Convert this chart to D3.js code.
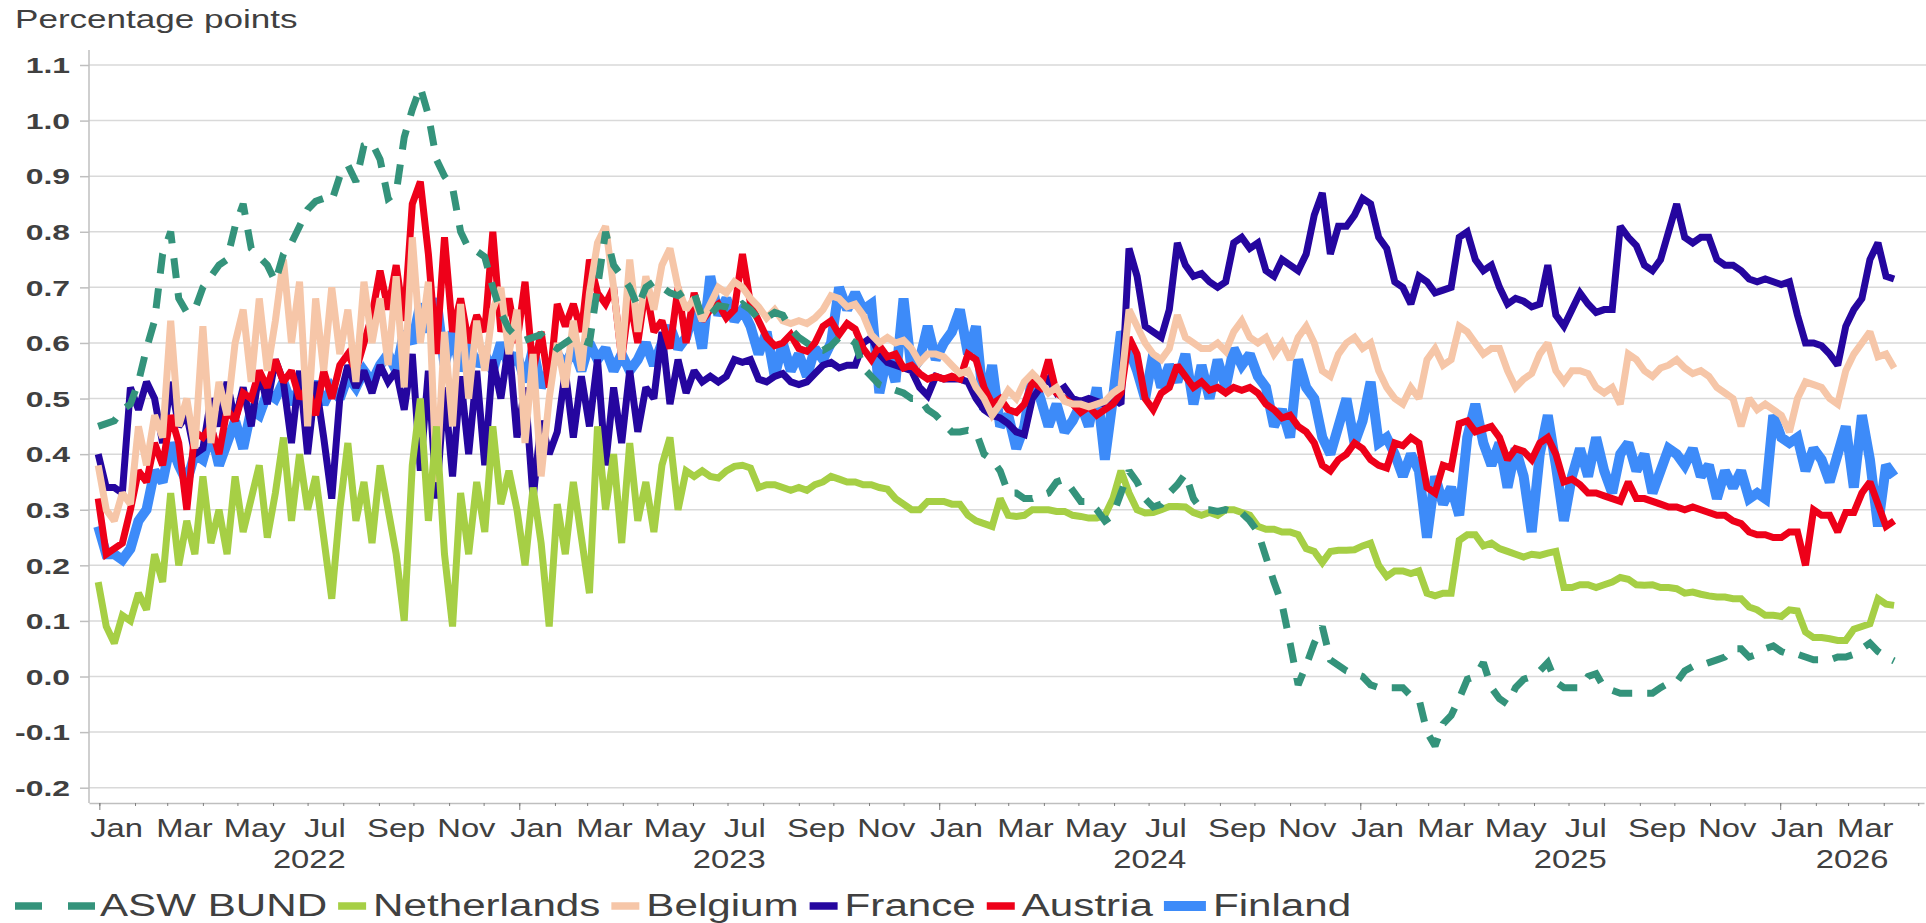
<!DOCTYPE html>
<html>
<head>
  <meta charset="utf-8">
  <title>ASW spreads</title>
  <script src="https://cdnjs.cloudflare.com/ajax/libs/d3/7.8.5/d3.min.js"></script>
  <style>
    body { margin: 0; background: #fff; }
    text { font-family: 'Liberation Sans', Arial, sans-serif; fill: #404040; }
  </style>
</head>
<body>
  <svg id="chart" width="1926" height="923"></svg>
  <script>
    // weekly observations, first one on 31 Dec 2021
    const firstDate = new Date(2021, 11, 31);

    const aswBund = [
      0.45,0.455,0.46,0.48,0.49,0.53,0.59,0.64,0.76,0.80,0.68,0.655,0.66,
      0.70,0.72,0.74,0.75,0.81,0.85,0.77,0.755,0.74,0.71,0.76,0.78,0.81,
      0.84,0.855,0.86,0.855,0.90,0.92,0.89,0.955,0.96,0.93,0.86,0.87,0.97,
      1.02,1.06,1.01,0.93,0.90,0.88,0.80,0.77,0.765,0.755,0.70,0.655,0.625,
      0.61,0.605,0.61,0.615,0.60,0.59,0.60,0.61,0.605,0.60,0.70,0.80,0.74,
      0.72,0.70,0.665,0.70,0.71,0.70,0.69,0.685,0.695,0.69,0.645,0.65,0.667,
      0.665,0.66,0.67,0.66,0.643,0.645,0.655,0.65,0.625,0.61,0.60,0.59,0.587,
      0.595,0.61,0.61,0.60,0.555,0.54,0.525,0.52,0.515,0.51,0.50,0.50,0.48,
      0.47,0.455,0.44,0.44,0.443,0.44,0.40,0.39,0.37,0.33,0.33,0.32,0.32,
      0.325,0.33,0.35,0.355,0.335,0.315,0.315,0.30,0.28,0.29,0.33,0.37,0.35,
      0.32,0.305,0.31,0.33,0.345,0.365,0.32,0.30,0.30,0.297,0.30,0.295,0.294,
      0.28,0.26,0.215,0.17,0.13,0.06,-0.015,0.02,0.06,0.09,0.03,0.02,0.01,
      0.005,0.0,-0.015,-0.02,-0.02,-0.02,-0.02,-0.035,-0.04,-0.10,-0.125,-0.085,-0.07,
      -0.04,-0.005,0.0,0.025,-0.02,-0.04,-0.05,-0.02,-0.005,0.0,0.01,0.025,-0.01,
      -0.02,-0.02,-0.02,0.0,0.005,-0.02,-0.025,-0.03,-0.03,-0.03,-0.03,-0.03,-0.02,
      -0.012,-0.01,0.01,0.018,0.02,0.025,0.03,0.035,0.05,0.05,0.035,0.04,0.05,
      0.055,0.045,0.04,0.04,0.035,0.03,0.03,0.03,0.035,0.035,0.04,0.05,0.06,
      0.045,0.035,0.028
    ];

    const netherlands = [
      0.17,0.09,0.06,0.11,0.10,0.15,0.12,0.22,0.17,0.33,0.20,0.28,0.22,
      0.36,0.24,0.30,0.22,0.36,0.26,0.32,0.38,0.25,0.33,0.43,0.28,0.40,
      0.30,0.36,0.25,0.14,0.30,0.42,0.28,0.35,0.24,0.38,0.30,0.22,0.10,
      0.38,0.50,0.28,0.45,0.22,0.09,0.33,0.22,0.35,0.26,0.45,0.31,0.37,
      0.30,0.20,0.34,0.24,0.09,0.31,0.22,0.35,0.25,0.15,0.45,0.30,0.40,
      0.24,0.42,0.28,0.35,0.26,0.38,0.43,0.30,0.37,0.36,0.37,0.36,0.357,
      0.37,0.378,0.38,0.375,0.34,0.345,0.345,0.34,0.335,0.34,0.335,0.345,0.35,
      0.36,0.355,0.35,0.35,0.345,0.345,0.34,0.337,0.32,0.31,0.30,0.30,0.315,
      0.315,0.315,0.31,0.31,0.29,0.28,0.275,0.27,0.32,0.29,0.288,0.29,0.30,
      0.30,0.30,0.297,0.297,0.29,0.288,0.285,0.285,0.29,0.32,0.37,0.33,0.30,
      0.294,0.295,0.30,0.306,0.306,0.305,0.295,0.29,0.295,0.29,0.30,0.30,0.295,
      0.29,0.27,0.265,0.265,0.26,0.26,0.255,0.23,0.225,0.205,0.225,0.227,0.227,
      0.228,0.235,0.24,0.20,0.18,0.19,0.19,0.185,0.19,0.15,0.145,0.15,0.15,
      0.245,0.255,0.255,0.235,0.24,0.23,0.225,0.22,0.215,0.22,0.218,0.222,0.225,
      0.16,0.16,0.165,0.165,0.16,0.165,0.17,0.178,0.175,0.165,0.164,0.165,0.16,
      0.16,0.158,0.15,0.152,0.148,0.145,0.143,0.143,0.14,0.14,0.125,0.12,0.11,
      0.11,0.108,0.12,0.118,0.08,0.07,0.07,0.068,0.065,0.065,0.085,0.09,0.095,
      0.14,0.13,0.128
    ];

    const belgium = [
      0.38,0.30,0.28,0.33,0.31,0.45,0.38,0.47,0.43,0.64,0.45,0.50,0.41,
      0.63,0.42,0.53,0.47,0.60,0.66,0.53,0.68,0.55,0.64,0.75,0.60,0.71,
      0.45,0.68,0.55,0.70,0.58,0.66,0.53,0.71,0.60,0.68,0.56,0.72,0.52,
      0.79,0.60,0.71,0.35,0.62,0.45,0.67,0.50,0.64,0.55,0.66,0.70,0.58,
      0.66,0.42,0.58,0.36,0.50,0.60,0.52,0.64,0.55,0.69,0.78,0.81,0.70,
      0.57,0.75,0.62,0.72,0.66,0.74,0.77,0.70,0.66,0.68,0.64,0.67,0.70,
      0.69,0.71,0.70,0.68,0.665,0.645,0.66,0.64,0.635,0.64,0.635,0.645,0.66,
      0.685,0.68,0.665,0.67,0.65,0.615,0.60,0.61,0.60,0.605,0.59,0.565,0.58,
      0.58,0.575,0.56,0.545,0.55,0.52,0.50,0.47,0.49,0.515,0.50,0.53,0.545,
      0.53,0.51,0.52,0.495,0.49,0.49,0.485,0.49,0.495,0.51,0.52,0.66,0.63,
      0.60,0.58,0.57,0.59,0.65,0.61,0.60,0.59,0.59,0.60,0.585,0.62,0.64,
      0.61,0.60,0.61,0.58,0.60,0.57,0.61,0.63,0.60,0.55,0.54,0.58,0.60,
      0.61,0.59,0.60,0.55,0.52,0.50,0.49,0.52,0.50,0.57,0.59,0.56,0.57,
      0.63,0.62,0.60,0.58,0.59,0.59,0.55,0.52,0.535,0.545,0.58,0.60,0.55,
      0.53,0.55,0.55,0.545,0.52,0.51,0.52,0.49,0.58,0.57,0.55,0.54,0.555,
      0.56,0.57,0.555,0.545,0.55,0.54,0.52,0.51,0.50,0.45,0.50,0.48,0.49,
      0.48,0.47,0.44,0.50,0.53,0.525,0.52,0.50,0.49,0.55,0.58,0.60,0.62,
      0.575,0.58,0.555
    ];

    const france = [
      0.40,0.34,0.34,0.33,0.52,0.48,0.53,0.50,0.42,0.53,0.45,0.47,0.40,
      0.41,0.50,0.45,0.53,0.46,0.52,0.45,0.55,0.49,0.57,0.53,0.42,0.55,
      0.40,0.53,0.43,0.32,0.50,0.56,0.52,0.55,0.51,0.56,0.53,0.55,0.48,
      0.58,0.37,0.55,0.32,0.52,0.36,0.54,0.40,0.55,0.38,0.57,0.50,0.60,
      0.43,0.52,0.32,0.46,0.40,0.44,0.55,0.43,0.54,0.45,0.57,0.38,0.52,
      0.42,0.55,0.44,0.52,0.50,0.62,0.49,0.57,0.51,0.55,0.53,0.54,0.53,
      0.54,0.57,0.565,0.57,0.535,0.53,0.54,0.545,0.53,0.525,0.53,0.545,0.56,
      0.565,0.555,0.56,0.56,0.60,0.61,0.58,0.565,0.56,0.555,0.55,0.52,0.505,
      0.54,0.535,0.535,0.535,0.53,0.50,0.48,0.47,0.465,0.455,0.44,0.435,0.50,
      0.52,0.535,0.51,0.52,0.50,0.495,0.50,0.495,0.49,0.50,0.49,0.77,0.72,
      0.63,0.62,0.61,0.66,0.78,0.74,0.72,0.725,0.71,0.70,0.71,0.78,0.79,
      0.77,0.78,0.73,0.72,0.75,0.74,0.73,0.76,0.83,0.87,0.76,0.81,0.81,
      0.83,0.86,0.85,0.79,0.77,0.71,0.70,0.67,0.72,0.71,0.69,0.695,0.70,
      0.79,0.80,0.75,0.73,0.74,0.70,0.67,0.68,0.675,0.665,0.67,0.74,0.65,
      0.63,0.66,0.69,0.67,0.655,0.66,0.66,0.81,0.79,0.775,0.74,0.73,0.75,
      0.80,0.85,0.79,0.78,0.79,0.79,0.75,0.74,0.74,0.73,0.715,0.71,0.715,
      0.71,0.705,0.71,0.65,0.60,0.60,0.595,0.58,0.56,0.63,0.66,0.68,0.75,
      0.78,0.72,0.715
    ];

    const austria = [
      0.32,0.22,0.23,0.24,0.30,0.37,0.35,0.42,0.38,0.47,0.42,0.30,0.44,
      0.43,0.45,0.40,0.48,0.46,0.51,0.50,0.55,0.52,0.57,0.53,0.55,0.50,
      0.52,0.47,0.55,0.50,0.56,0.58,0.55,0.60,0.65,0.73,0.66,0.74,0.64,
      0.85,0.89,0.76,0.58,0.79,0.62,0.68,0.60,0.65,0.62,0.80,0.62,0.68,
      0.60,0.71,0.55,0.62,0.52,0.67,0.63,0.67,0.62,0.75,0.69,0.67,0.70,
      0.57,0.68,0.60,0.70,0.62,0.64,0.59,0.70,0.60,0.69,0.64,0.66,0.67,
      0.645,0.66,0.76,0.67,0.64,0.61,0.595,0.60,0.615,0.59,0.585,0.60,0.63,
      0.64,0.615,0.635,0.625,0.59,0.57,0.595,0.575,0.58,0.555,0.56,0.545,0.535,
      0.54,0.535,0.54,0.535,0.58,0.57,0.52,0.49,0.50,0.48,0.475,0.49,0.53,
      0.52,0.57,0.51,0.50,0.49,0.475,0.485,0.47,0.48,0.49,0.51,0.61,0.58,
      0.50,0.48,0.51,0.52,0.56,0.54,0.52,0.53,0.515,0.52,0.51,0.52,0.515,
      0.52,0.51,0.49,0.48,0.465,0.47,0.45,0.44,0.42,0.38,0.37,0.39,0.40,
      0.42,0.41,0.39,0.38,0.375,0.42,0.415,0.43,0.42,0.34,0.33,0.38,0.375,
      0.455,0.46,0.44,0.445,0.45,0.43,0.39,0.41,0.405,0.39,0.42,0.43,0.40,
      0.35,0.355,0.345,0.33,0.33,0.325,0.32,0.315,0.35,0.32,0.32,0.315,0.31,
      0.305,0.305,0.30,0.305,0.30,0.295,0.29,0.29,0.28,0.275,0.26,0.255,0.255,
      0.25,0.25,0.26,0.26,0.20,0.30,0.29,0.29,0.26,0.295,0.295,0.33,0.35,
      0.31,0.27,0.28
    ];

    const finland = [
      0.27,0.22,0.22,0.21,0.23,0.28,0.30,0.37,0.35,0.42,0.38,0.35,0.40,
      0.39,0.44,0.38,0.42,0.46,0.41,0.48,0.47,0.51,0.50,0.53,0.49,0.52,
      0.50,0.53,0.49,0.52,0.50,0.54,0.52,0.55,0.53,0.56,0.58,0.55,0.62,
      0.60,0.67,0.62,0.68,0.56,0.62,0.55,0.60,0.56,0.58,0.55,0.60,0.56,
      0.58,0.53,0.59,0.52,0.55,0.58,0.56,0.59,0.55,0.60,0.57,0.59,0.55,
      0.58,0.55,0.57,0.60,0.56,0.60,0.63,0.59,0.61,0.66,0.59,0.72,0.65,
      0.68,0.64,0.66,0.63,0.58,0.62,0.54,0.60,0.55,0.58,0.54,0.59,0.57,
      0.60,0.70,0.66,0.69,0.66,0.67,0.51,0.58,0.53,0.68,0.55,0.57,0.63,
      0.57,0.60,0.62,0.66,0.58,0.63,0.48,0.56,0.45,0.47,0.41,0.45,0.54,
      0.50,0.45,0.49,0.44,0.46,0.49,0.45,0.52,0.39,0.50,0.62,0.59,0.55,
      0.50,0.58,0.52,0.56,0.53,0.58,0.49,0.56,0.50,0.57,0.52,0.59,0.56,
      0.58,0.54,0.52,0.45,0.48,0.43,0.57,0.52,0.50,0.43,0.40,0.45,0.50,
      0.42,0.46,0.53,0.42,0.43,0.40,0.36,0.40,0.37,0.25,0.36,0.31,0.34,
      0.29,0.43,0.49,0.42,0.38,0.42,0.34,0.41,0.36,0.26,0.40,0.47,0.38,
      0.28,0.36,0.41,0.36,0.43,0.37,0.33,0.40,0.42,0.37,0.40,0.33,0.37,
      0.41,0.40,0.38,0.41,0.36,0.38,0.32,0.37,0.34,0.37,0.32,0.33,0.32,
      0.47,0.43,0.42,0.43,0.37,0.41,0.39,0.35,0.40,0.45,0.34,0.47,0.39,
      0.27,0.38,0.36
    ];

    const yTicks = [-0.2, -0.1, 0.0, 0.1, 0.2, 0.3, 0.4, 0.5, 0.6, 0.7, 0.8, 0.9, 1.0, 1.1];
    const monthNames = ['Jan', 'Feb', 'Mar', 'Apr', 'May', 'Jun', 'Jul', 'Aug', 'Sep', 'Oct', 'Nov', 'Dec'];

    // legend order
    const series = [
      { name: 'ASW BUND', values: aswBund, color: '#34937b', width: 7, dash: '20,15' },
      { name: 'Netherlands', values: netherlands, color: '#a6cf45', width: 7 },
      { name: 'Belgium', values: belgium, color: '#f6c6a8', width: 7 },
      { name: 'France', values: france, color: '#25069f', width: 7 },
      { name: 'Austria', values: austria, color: '#ee0019', width: 7 },
      { name: 'Finland', values: finland, color: '#3d8bf9', width: 10 }
    ];
    // painting order, bottom first
    const drawOrder = ['Finland', 'France', 'Austria', 'Belgium', 'Netherlands', 'ASW BUND'];

    const svg = d3.select('#chart');
    const left = 89, right = 1924, bottom = 803;

    const x = d3.scaleTime()
      .domain([new Date(2021, 11, 23), new Date(2026, 4, 6)])
      .range([left, right]);
    const y = d3.scaleLinear().domain([-0.2, 1.1]).range([787.7, 65]);

    const weekDate = i => d3.timeDay.offset(firstDate, 7 * i);

    // text is drawn a bit wider than the font, like the original export
    function stretched(parent, px, py, str, size, sx, anchor, weight) {
      return parent.append('text')
        .attr('transform', `translate(${px},${py}) scale(${sx},1)`)
        .attr('text-anchor', anchor || 'start')
        .attr('font-size', size)
        .attr('font-weight', weight || 'normal')
        .text(str);
    }

    // gridlines
    svg.append('g').selectAll('line')
      .data(yTicks)
      .join('line')
      .attr('x1', left).attr('x2', 1926)
      .attr('y1', d => y(d)).attr('y2', d => y(d))
      .attr('stroke', '#d9d9d9')
      .attr('stroke-width', 1.5);

    // y axis
    const yAxis = svg.append('g')
      .attr('transform', `translate(${left},0)`)
      .call(d3.axisLeft(y).tickValues(yTicks).tickSize(9).tickSizeOuter(0).tickFormat(d => d.toFixed(1)));
    yAxis.select('.domain').remove();
    yAxis.selectAll('line').attr('stroke', '#bfbfbf').attr('stroke-width', 1.5);
    yAxis.selectAll('text')
      .attr('font-size', 22.3)
      .attr('font-weight', 'bold')
      .attr('x', -19 / 1.43)
      .attr('dy', '0.35em')
      .attr('transform', 'scale(1.43,1)');

    svg.append('line')
      .attr('x1', left).attr('x2', left)
      .attr('y1', 50).attr('y2', bottom)
      .attr('stroke', '#bfbfbf').attr('stroke-width', 1.5);

    // x axis: month ticks, longer ticks at the turn of the year
    const xAxis = svg.append('g')
      .attr('transform', `translate(0,${bottom})`)
      .call(d3.axisBottom(x).ticks(d3.timeMonth.every(1)).tickSize(3).tickSizeOuter(0).tickFormat(''));
    xAxis.select('.domain').attr('stroke', '#bfbfbf').attr('stroke-width', 1.5);
    xAxis.selectAll('line').attr('stroke', '#7f7f7f');

    const yearAxis = svg.append('g')
      .attr('transform', `translate(0,${bottom})`)
      .call(d3.axisBottom(x).ticks(d3.timeYear.every(1)).tickSize(7).tickFormat(''));
    yearAxis.select('.domain').remove();
    yearAxis.selectAll('line').attr('stroke', '#7f7f7f');

    const labelG = svg.append('g');
    const [d0, d1] = x.domain();
    d3.timeMonth.range(new Date(2022, 0, 1), new Date(2026, 3, 1))
      .filter(d => d.getMonth() % 2 === 0)
      .forEach(d => {
        stretched(labelG, x(d3.timeDay.offset(d, 15)), 836.5, monthNames[d.getMonth()], 25.6, 1.28, 'middle');
      });
    d3.timeYear.range(new Date(2022, 0, 1), new Date(2027, 0, 1)).forEach(d => {
      const a = d < d0 ? d0 : d;
      const next = d3.timeYear.offset(d, 1);
      const b = next > d1 ? d1 : next;
      stretched(labelG, (x(a) + x(b)) / 2, 868, d.getFullYear(), 25.6, 1.28, 'middle');
    });

    // title
    stretched(svg, 15, 28, 'Percentage points', 25.6, 1.37, 'start');

    // lines
    const line = d3.line()
      .x((d, i) => x(weekDate(i)))
      .y(d => y(d));

    const lineG = svg.append('g');
    drawOrder.forEach(name => {
      const s = series.find(e => e.name === name);
      lineG.append('path')
        .datum(s.values)
        .attr('d', line)
        .attr('fill', 'none')
        .attr('stroke', s.color)
        .attr('stroke-width', s.width)
        .attr('stroke-linejoin', 'miter')
        .attr('stroke-miterlimit', 2)
        .attr('stroke-dasharray', s.dash || null);
    });

    // legend
    const legend = svg.append('g');
    const ly = 906;
    let lx = 15;
    series.forEach(s => {
      if (s.dash) {
        [0, 53].forEach(off => {
          legend.append('line')
            .attr('x1', lx + off).attr('x2', lx + off + 27)
            .attr('y1', ly).attr('y2', ly)
            .attr('stroke', s.color).attr('stroke-width', 7.5);
        });
        lx += 85;
      } else {
        const sw = s.name === 'Finland' ? 42 : 28;
        legend.append('line')
          .attr('x1', lx).attr('x2', lx + sw)
          .attr('y1', ly).attr('y2', ly)
          .attr('stroke', s.color).attr('stroke-width', s.name === 'Finland' ? 10 : 7.5);
        lx += sw + 7;
      }
      const t = stretched(legend, lx, 916, s.name, 31.7, 1.33, 'start');
      lx += t.node().getComputedTextLength() * 1.33 + 11;
    });
  </script>
</body>
</html>
